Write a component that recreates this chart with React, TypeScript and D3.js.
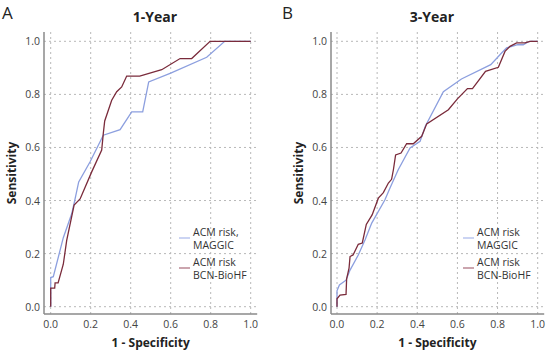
import React from 'react';
import * as d3 from 'd3';

// 1-year ROC (panel A)
const maggic1X = [0, 0, 0.013, 0.063, 0.105, 0.12, 0.14, 0.197, 0.263, 0.347, 0.405, 0.46, 0.49, 0.6, 0.78, 0.87, 1.0];
const maggic1Y = [0, 0.11, 0.113, 0.26, 0.35, 0.4, 0.47, 0.546, 0.646, 0.667, 0.734, 0.734, 0.847, 0.88, 0.94, 1.0, 1.0];
const bcn1X = [0, 0, 0.02, 0.022, 0.037, 0.063, 0.08, 0.117, 0.147, 0.205, 0.255, 0.263, 0.27, 0.305, 0.33, 0.355, 0.38, 0.445, 0.555, 0.647, 0.705, 0.797, 1.0];
const bcn1Y = [0, 0.07, 0.07, 0.09, 0.09, 0.16, 0.25, 0.383, 0.406, 0.508, 0.59, 0.653, 0.7, 0.778, 0.81, 0.828, 0.869, 0.869, 0.893, 0.935, 0.935, 1.0, 1.0];

// 3-year ROC (panel B)
const maggic3X = [0, 0, 0.012, 0.045, 0.065, 0.106, 0.14, 0.173, 0.239, 0.264, 0.305, 0.364, 0.414, 0.44, 0.53, 0.62, 0.766, 0.82, 0.845, 0.9, 0.928, 0.958, 1.0];
const maggic3Y = [0, 0.06, 0.082, 0.1, 0.138, 0.195, 0.252, 0.315, 0.403, 0.447, 0.516, 0.598, 0.623, 0.68, 0.81, 0.858, 0.912, 0.956, 0.975, 0.987, 0.987, 1.0, 1.0];
const bcn3X = [0, 0, 0.015, 0.045, 0.048, 0.06, 0.065, 0.08, 0.106, 0.126, 0.146, 0.175, 0.206, 0.231, 0.256, 0.272, 0.281, 0.292, 0.319, 0.347, 0.38, 0.422, 0.447, 0.555, 0.6, 0.65, 0.675, 0.74, 0.804, 0.837, 0.862, 0.895, 0.937, 0.962, 1.0];
const bcn3Y = [0, 0.03, 0.044, 0.046, 0.105, 0.145, 0.189, 0.195, 0.235, 0.24, 0.31, 0.346, 0.409, 0.43, 0.466, 0.48, 0.516, 0.572, 0.579, 0.614, 0.614, 0.642, 0.689, 0.742, 0.783, 0.822, 0.822, 0.887, 0.902, 0.962, 0.981, 0.994, 0.994, 1.0, 1.0];

const ticks = [0, 0.2, 0.4, 0.6, 0.8, 1.0];
const legend1 = [['ACM risk,', 'MAGGIC'], ['ACM risk', 'BCN-BioHF']];
const legend3 = [['ACM risk', 'MAGGIC'], ['ACM risk', 'BCN-BioHF']];

const BLUE = '#8c9fdf';
const BROWN = '#7a2b3b';
const FONT = '"Open Sans", "DejaVu Sans", sans-serif';

type PanelProps = {
  letter: string;
  title: string;
  ox: number; // frame left
  x0: number; x1: number; // pixel range of 0..1
  titleX: number;
  blueX: number[]; blueY: number[];
  brownX: number[]; brownY: number[];
  legend: string[][];
  legendX: number;
  letterX: number;
};

const Panel = (p: PanelProps) => {
  const top = 32, bottom = 314;
  const right = p.x1 + 6.5;
  const x = d3.scaleLinear().domain([0, 1]).range([p.x0, p.x1]);
  const y = d3.scaleLinear().domain([0, 1]).range([306.7, 41.3]);
  const line = d3.line<[number, number]>().x(d => x(d[0])).y(d => y(d[1]));
  const blue = line(p.blueX.map((v, i) => [v, p.blueY[i]]) as [number, number][]);
  const brown = line(p.brownX.map((v, i) => [v, p.brownY[i]]) as [number, number][]);
  const fmt = d3.format('.1f');
  const midY = (top + bottom) / 2;
  return (
    <g fontFamily={FONT}>
      <text x={p.letterX} y={19} fontSize={17} fill="#222">{p.letter}</text>
      <text x={p.titleX} y={22} fontSize={14} fontWeight="bold" textAnchor="middle" fill="#222">{p.title}</text>
      {ticks.map(t => (
        <g key={'g' + t}>
          <line x1={p.ox} x2={right} y1={y(t)} y2={y(t)} stroke="#b8b8b8" strokeDasharray="2,3" />
          <line x1={x(t)} x2={x(t)} y1={top} y2={bottom} stroke="#b8b8b8" strokeDasharray="2,3" />
          <text x={p.ox - 4} y={y(t) + 4} fontSize={10.5} textAnchor="end" fill="#444">{fmt(t)}</text>
          <text x={x(t)} y={328} fontSize={10.5} textAnchor="middle" fill="#444">{fmt(t)}</text>
        </g>
      ))}
      <line x1={p.ox} x2={p.ox} y1={top} y2={bottom} stroke="#8a8a8a" strokeWidth={1.5} />
      <line x1={p.ox} x2={right} y1={bottom} y2={bottom} stroke="#8a8a8a" strokeWidth={1.5} />
      <path d={blue!} fill="none" stroke={BLUE} strokeWidth={1.3} />
      <path d={brown!} fill="none" stroke={BROWN} strokeWidth={1.3} />
      <text x={(p.x0 + p.x1) / 2} y={347} fontSize={12} fontWeight="bold" textAnchor="middle" fill="#222">1 - Specificity</text>
      <text transform={`translate(${p.ox - 28},${midY}) rotate(-90)`} fontSize={12} fontWeight="bold" textAnchor="middle" fill="#222">Sensitivity</text>
      {p.legend.map((lab, i) => (
        <g key={'l' + i}>
          <line x1={p.legendX} x2={p.legendX + 11} y1={238 + i * 30} y2={238 + i * 30} stroke={i === 0 ? '#a9b8ec' : '#a86a78'} strokeWidth={1.2} />
          <text x={p.legendX + 14} y={235.5 + i * 30} fontSize={10.5} fill="#333">{lab[0]}</text>
          <text x={p.legendX + 14} y={248.5 + i * 30} fontSize={10.5} fill="#333">{lab[1]}</text>
        </g>
      ))}
    </g>
  );
};

export default function App() {
  return (
    <svg width={550} height={353} style={{ position: 'absolute', left: 0, top: 0, background: '#fff' }}>
      <rect width={550} height={353} fill="#fff" />
      <Panel letter="A" title="1-Year" ox={44} x0={50.7} x1={250.7} titleX={155} letterX={2}
        blueX={maggic1X} blueY={maggic1Y} brownX={bcn1X} brownY={bcn1Y} legend={legend1} legendX={179} />
      <Panel letter="B" title="3-Year" ox={331} x0={337} x1={537.7} titleX={432} letterX={282}
        blueX={maggic3X} blueY={maggic3Y} brownX={bcn3X} brownY={bcn3Y} legend={legend3} legendX={463} />
    </svg>
  );
}
